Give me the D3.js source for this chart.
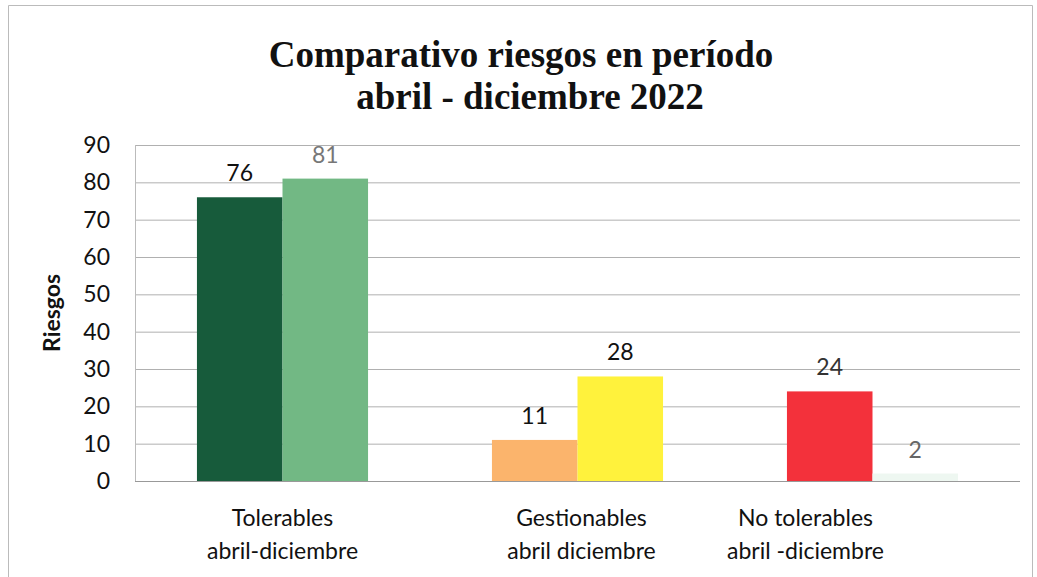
<!DOCTYPE html>
<html>
<head>
<meta charset="utf-8">
<script src="https://cdn.jsdelivr.net/npm/d3@7"></script>
<style>
  body { margin: 0; background: #fff; }
</style>
</head>
<body>
<div id="chart-area"></div>
<script>
// data
var categories = ["Tolerables\nabril-diciembre", "Gestionables\nabril diciembre", "No tolerables\nabril -diciembre"];
var firstValues = [76, 11, 24];
var secondValues = [81, 28, 2];
var firstColors = ["#175b3b", "#fbb46c", "#f3313b"];
var secondColors = ["#72b884", "#fff23c", "#eef7f1"];
var firstLabelColors = ["#111", "#111", "#333"];
var secondLabelColors = ["#777", "#111", "#666"];
var yTicks = [0, 10, 20, 30, 40, 50, 60, 70, 80, 90];

var W = 1037, H = 577;
var margin = {top: 145, right: 17, bottom: 96, left: 135};
var width = W - margin.left - margin.right;
var height = H - margin.top - margin.bottom;
// the category captions are not exactly centred under their groups
var captionShift = [0, 4, -67];

var svg = d3.select("#chart-area")
  .append("svg")
    .attr("width", W)
    .attr("height", H);

// outer frame of the chart
svg.append("path")
  .attr("d", "M8.5," + H + "V5.5H1032.5V" + H)
  .attr("fill", "none")
  .attr("stroke", "#bbb")
  .attr("stroke-width", 1);

svg.append("text")
  .attr("x", 521)
  .attr("y", 67)
  .attr("text-anchor", "middle")
  .attr("font-family", "Liberation Serif, Times New Roman, serif")
  .attr("font-weight", "bold")
  .attr("font-size", "37px")
  .attr("fill", "#111")
  .text("Comparativo riesgos en período");

svg.append("text")
  .attr("x", 530)
  .attr("y", 109)
  .attr("text-anchor", "middle")
  .attr("font-family", "Liberation Serif, Times New Roman, serif")
  .attr("font-weight", "bold")
  .attr("font-size", "37px")
  .attr("fill", "#111")
  .text("abril - diciembre 2022");

var g = svg.append("g")
  .attr("transform", "translate(" + margin.left + ", " + margin.top + ")");

var x = d3.scaleBand()
  .domain(categories)
  .range([0, width])
  .paddingInner(0.42)
  .paddingOuter(0.21);

var x1 = d3.scaleBand()
  .domain([0, 1])
  .range([0, x.bandwidth()]);

var y = d3.scaleLinear().domain([0, 90]).range([height, 0]);

// gridlines
g.append("g")
  .selectAll("line")
  .data(yTicks)
  .enter().append("line")
    .attr("x1", 0)
    .attr("x2", width)
    .attr("y1", (d) => y(d) + 0.5)
    .attr("y2", (d) => y(d) + 0.5)
    .attr("stroke", (d) => d === 0 ? "#999" : "#b0b0b0")
    .attr("stroke-width", 1);

g.append("line")
  .attr("x1", 0.5).attr("x2", 0.5)
  .attr("y1", 0).attr("y2", height)
  .attr("stroke", "#bbb");

var leftAxis = d3.axisLeft(y).tickValues(yTicks).tickSize(0).tickPadding(25);
var yAxisGroup = g.append("g").call(leftAxis);
yAxisGroup.select(".domain").remove();
yAxisGroup.selectAll("text")
  .attr("font-family", "Lato, Calibri, sans-serif")
  .attr("font-size", "23px")
  .attr("fill", "#111");

g.append("text")
  .attr("transform", "rotate(-90)")
  .attr("x", -(313 - margin.top))
  .attr("y", -75)
  .attr("text-anchor", "middle")
  .attr("font-family", "Lato, Calibri, sans-serif")
  .attr("font-weight", "bold")
  .attr("font-size", "23px")
  .attr("fill", "#111")
  .text("Riesgos");

// bars
var groups = g.selectAll(".grp")
  .data(categories)
  .enter().append("g")
    .attr("class", "grp")
    .attr("transform", (d) => "translate(" + x(d) + ",0)");

groups.append("rect")
  .attr("x", x1(0))
  .attr("y", (d, i) => y(firstValues[i]))
  .attr("width", x1.bandwidth())
  .attr("height", (d, i) => height - y(firstValues[i]))
  .attr("fill", (d, i) => firstColors[i]);

groups.append("rect")
  .attr("x", x1(1))
  .attr("y", (d, i) => y(secondValues[i]))
  .attr("width", x1.bandwidth())
  .attr("height", (d, i) => height - y(secondValues[i]))
  .attr("fill", (d, i) => secondColors[i]);

groups.append("text")
  .attr("x", x1(0) + x1.bandwidth() / 2)
  .attr("y", (d, i) => y(firstValues[i]) - 16)
  .attr("text-anchor", "middle")
  .attr("font-family", "Lato, Calibri, sans-serif")
  .attr("font-size", "23px")
  .attr("fill", (d, i) => firstLabelColors[i])
  .text((d, i) => firstValues[i]);

groups.append("text")
  .attr("x", x1(1) + x1.bandwidth() / 2)
  .attr("y", (d, i) => y(secondValues[i]) - 16)
  .attr("text-anchor", "middle")
  .attr("font-family", "Lato, Calibri, sans-serif")
  .attr("font-size", "23px")
  .attr("fill", (d, i) => secondLabelColors[i])
  .text((d, i) => secondValues[i]);

// category labels, two lines each
var catLabels = g.append("g")
  .selectAll("text")
  .data(categories)
  .enter().append("text")
    .attr("text-anchor", "middle")
    .attr("font-family", "Lato, Calibri, sans-serif")
    .attr("font-size", "23px")
    .attr("fill", "#111");

catLabels.selectAll("tspan")
  .data((d, k) => d.split("\n").map((t) => ({t: t, c: d, k: k})))
  .enter().append("tspan")
    .attr("x", (d) => x(d.c) + x.bandwidth() / 2 + captionShift[d.k])
    .attr("y", (d, i) => height + 45 + i * 33)
    .text((d) => d.t);
</script>
</body>
</html>
